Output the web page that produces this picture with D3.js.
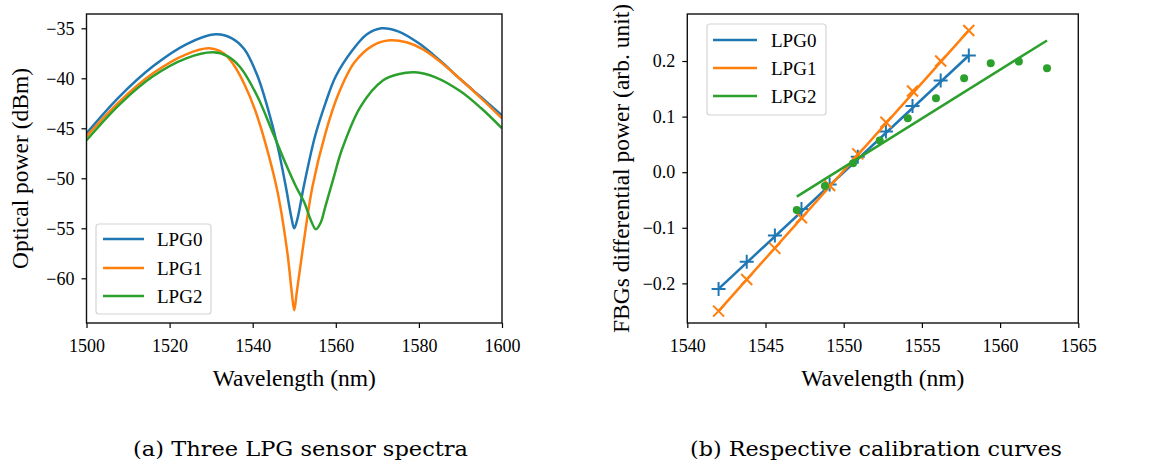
<!DOCTYPE html>
<html>
<head>
<meta charset="utf-8">
<script src="https://cdn.jsdelivr.net/npm/d3@7"></script>
<style>
  html, body { margin: 0; padding: 0; background: #fff; }
  svg text { font-family: "Liberation Serif", "Times New Roman", serif; fill: #000; }
</style>
</head>
<body>
<svg id="fig" width="1150" height="464"></svg>
<script>
// ---- (a) spectra ----
const lpg0Wl = [1500, 1508, 1516, 1524, 1531, 1535, 1538, 1541, 1543.5, 1546, 1548, 1549.3, 1550, 1550.8, 1552.3, 1555, 1557.5, 1560, 1564, 1567.5, 1571, 1575, 1580, 1585, 1590, 1595, 1600];
const lpg0Db = [-45.5, -41.8, -38.8, -36.6, -35.6, -36.0, -37.1, -39.6, -42.8, -46.8, -50.9, -53.9, -55.0, -54.0, -50.8, -45.8, -42.5, -39.8, -37.2, -35.6, -35.0, -35.3, -36.5, -38.2, -40.1, -41.9, -43.7];

const lpg1Wl = [1500, 1508, 1516, 1524, 1529.5, 1533, 1535.5, 1538, 1540.5, 1543, 1546, 1548.3, 1549.4, 1550, 1550.6, 1552, 1554.4, 1557.5, 1560.6, 1564.5, 1569, 1573, 1577, 1581, 1585, 1590, 1595, 1600];
const lpg1Db = [-45.8, -42.3, -39.5, -37.6, -37.0, -37.5, -38.7, -40.6, -43.1, -46.4, -51.4, -57.3, -61.4, -63.2, -61.4, -57.2, -50.8, -45.5, -41.6, -38.4, -36.7, -36.2, -36.4, -37.1, -38.3, -40.1, -42.0, -44.0];

const lpg2Wl = [1500, 1508, 1516, 1524, 1530.5, 1534, 1537, 1541, 1545, 1548, 1550.5, 1552.4, 1554, 1555.2, 1556.3, 1557.5, 1559.5, 1561.5, 1566, 1571.4, 1575, 1579, 1584, 1590, 1595, 1600];
const lpg2Db = [-46.2, -42.6, -39.8, -38.0, -37.4, -37.8, -38.9, -41.7, -45.6, -48.6, -50.9, -52.4, -54.2, -55.1, -54.5, -52.8, -49.9, -47.1, -42.8, -40.2, -39.6, -39.4, -39.9, -41.3, -43.0, -45.0];

// ---- (b) calibration points and fitted lines ----
const calWl01 = [1542, 1543.8, 1545.6, 1547.3, 1549.1, 1550.9, 1552.7, 1554.4, 1556.2, 1558];
const calWl2 = [1547, 1548.8, 1550.6, 1552.3, 1554.1, 1555.9, 1557.7, 1559.4, 1561.2, 1563];
const cal0 = [-0.21, -0.161, -0.114, -0.066, -0.022, 0.028, 0.073, 0.119, 0.165, 0.21];
const cal1 = [-0.25, -0.193, -0.137, -0.082, -0.024, 0.033, 0.09, 0.146, 0.2, 0.255];
const cal2 = [-0.068, -0.025, 0.016, 0.057, 0.097, 0.133, 0.169, 0.196, 0.199, 0.187];
const fit0 = [[1542, -0.21], [1558, 0.21]];
const fit1 = [[1542, -0.25], [1558, 0.255]];
const fit2 = [[1547, -0.044], [1563, 0.237]];

const seriesNames = ["LPG0", "LPG1", "LPG2"];
const colors = ["#1f77b4", "#ff7f0e", "#2ca02c"];
const ticksA_x = [1500, 1520, 1540, 1560, 1580, 1600];
const ticksA_y = [-35, -40, -45, -50, -55, -60];
const ticksB_x = [1540, 1545, 1550, 1555, 1560, 1565];
const ticksB_y = [-0.2, -0.1, 0.0, 0.1, 0.2];
const captions = ["(a) Three LPG sensor spectra", "(b) Respective calibration curves"];

const svg = d3.select("#fig");

function frame(g, x, y, xTicks, yTicks, yFmt, xLabel, yLabel, yLabelX) {
    const [x0, x1] = x.range();
    const [y0, y1] = y.range();

    g.append("g")
        .attr("transform", `translate(0,${y0})`)
        .call(d3.axisBottom(x).tickValues(xTicks).tickSize(5).tickPadding(11).tickFormat(d3.format("d")))
        .call(a => a.select(".domain").remove())
        .call(a => a.selectAll("line").attr("stroke", "#000").attr("stroke-width", 1.2))
        .call(a => a.selectAll("text").style("font-size", "18px"));

    g.append("g")
        .attr("transform", `translate(${x0},0)`)
        .call(d3.axisLeft(y).tickValues(yTicks).tickSize(5).tickPadding(7).tickFormat(yFmt))
        .call(a => a.select(".domain").remove())
        .call(a => a.selectAll("line").attr("stroke", "#000").attr("stroke-width", 1.2))
        .call(a => a.selectAll("text").style("font-size", "18px"));

    g.append("rect")
        .attr("x", x0).attr("y", y1)
        .attr("width", x1 - x0).attr("height", y0 - y1)
        .attr("fill", "none").attr("stroke", "#111").attr("stroke-width", 1.4);

    g.append("text")
        .attr("x", (x0 + x1) / 2).attr("y", 386)
        .attr("text-anchor", "middle")
        .style("font-size", "23.5px")
        .text(xLabel);

    g.append("text")
        .attr("transform", `translate(${yLabelX},${(y0 + y1) / 2}) rotate(-90)`)
        .attr("text-anchor", "middle")
        .attr("dy", "0.35em")
        .style("font-size", "23.5px")
        .text(yLabel);
}

function legend(g, bx, by, bw, bh, lineX0, lineX1, textX, rowY) {
    g.append("rect")
        .attr("x", bx).attr("y", by)
        .attr("width", bw).attr("height", bh)
        .attr("rx", 3)
        .attr("fill", "#fff").attr("fill-opacity", 0.8)
        .attr("stroke", "#d4d4d4").attr("stroke-width", 1.2);
    seriesNames.forEach((name, i) => {
        g.append("line")
            .attr("x1", lineX0).attr("x2", lineX1)
            .attr("y1", rowY[i]).attr("y2", rowY[i])
            .attr("stroke", colors[i]).attr("stroke-width", 2.4);
        g.append("text")
            .attr("x", textX).attr("y", rowY[i])
            .attr("dy", "0.35em")
            .style("font-size", "19px")
            .text(name);
    });
}

// ---------- panel (a) ----------
const xA = d3.scaleLinear().domain([1500, 1600]).range([86.5, 502]);
const yA = d3.scaleLinear().domain([-64.47, -33.57]).range([323, 14]);
const gA = svg.append("g");

const spectra = [
    d3.zip(lpg0Wl, lpg0Db),
    d3.zip(lpg1Wl, lpg1Db),
    d3.zip(lpg2Wl, lpg2Db)
];
const lineA = d3.line()
    .x(d => xA(d[0]))
    .y(d => yA(d[1]))
    .curve(d3.curveCatmullRom.alpha(0.5));

gA.append("defs").append("clipPath").attr("id", "clipA")
    .append("rect").attr("x", 86.5).attr("y", 14).attr("width", 415.5).attr("height", 309);

spectra.forEach((s, i) => {
    gA.append("path")
        .datum(s)
        .attr("clip-path", "url(#clipA)")
        .attr("d", lineA)
        .attr("fill", "none")
        .attr("stroke", colors[i])
        .attr("stroke-width", 2.5)
        .attr("stroke-linejoin", "round");
});

frame(gA, xA, yA, ticksA_x, ticksA_y, d3.format("d"), "Wavelength (nm)", "Optical power (dBm)", 20);
legend(gA, 96, 224, 115, 90, 103, 144, 157, [239, 268, 296]);

// ---------- panel (b) ----------
const xB = d3.scaleLinear().domain([1540, 1565]).range([687.3, 1078.3]);
const yB = d3.scaleLinear().domain([-0.2713, 0.2846]).range([323, 14]);
const gB = svg.append("g");

const lineB = d3.line().x(d => xB(d[0])).y(d => yB(d[1]));
const fits = [fit0, fit1, fit2];
const points = [d3.zip(calWl01, cal0), d3.zip(calWl01, cal1), d3.zip(calWl2, cal2)];

fits.forEach((f, i) => {
    gB.append("path")
        .datum(f)
        .attr("d", lineB)
        .attr("fill", "none")
        .attr("stroke", colors[i])
        .attr("stroke-width", 2.5);

    const pts = gB.append("g").selectAll("g")
        .data(points[i])
        .join("g")
        .attr("transform", d => `translate(${xB(d[0])},${yB(d[1])})`);

    if (i === 0) {
        pts.append("path").attr("d", "M-7,0H7M0,-7V7")
            .attr("stroke", colors[i]).attr("stroke-width", 2);
    } else if (i === 1) {
        pts.append("path").attr("d", "M-5.5,-5.5L5.5,5.5M-5.5,5.5L5.5,-5.5")
            .attr("stroke", colors[i]).attr("stroke-width", 2);
    } else {
        pts.append("circle").attr("r", 4).attr("fill", colors[i]);
    }
});

frame(gB, xB, yB, ticksB_x, ticksB_y, d3.format(".1f"), "Wavelength (nm)", "FBGs differential power (arb. unit)", 621);
legend(gB, 707, 24, 119, 91, 713, 757, 771, [40, 68, 96]);

// ---------- captions ----------
const capX = [[133, 468], [690, 1062]];
captions.forEach((c, i) => {
    svg.append("text")
        .attr("x", capX[i][0]).attr("y", 456)
        .attr("textLength", capX[i][1] - capX[i][0])
        .attr("lengthAdjust", "spacingAndGlyphs")
        .style("font-family", "'DejaVu Serif', serif")
        .style("font-size", "21px")
        .text(c);
});
</script>
</body>
</html>
